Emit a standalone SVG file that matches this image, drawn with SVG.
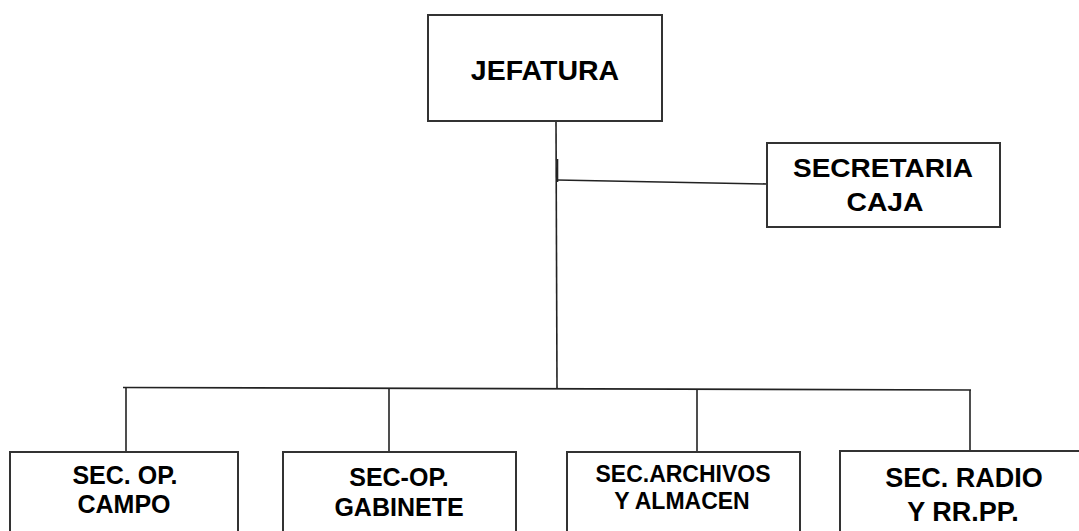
<svg xmlns="http://www.w3.org/2000/svg" width="1079" height="531" viewBox="0 0 1079 531">
<style>
.box{fill:#fff;stroke:#333;stroke-width:2}
.ln{stroke:#222;stroke-width:1.6;fill:none}
text{font-family:"Liberation Sans",Arial,sans-serif;font-weight:bold;fill:#000;text-anchor:middle}
</style>
<rect width="1079" height="531" fill="#fff"/>
<g id="connectors">
<path class="ln" d="M556 121 L557 388"/>
<path class="ln" d="M557.5 159 L557.5 182"/>
<path class="ln" d="M557 180 L767 184"/>
<path class="ln" d="M123 387.5 L971 390"/>
<path class="ln" d="M126 388 L126 452"/>
<path class="ln" d="M389 388 L389 452"/>
<path class="ln" d="M697 389 L697 452"/>
<path class="ln" d="M970 390 L970 452"/>
</g>
<g id="jefatura">
<rect class="box" x="428" y="15" width="234" height="106"/>
<text x="545" y="80" font-size="28.5">JEFATURA</text>
</g>
<g id="secretaria">
<rect class="box" x="767" y="143" width="233" height="84"/>
<text x="883" y="177" font-size="26" textLength="180" lengthAdjust="spacingAndGlyphs">SECRETARIA</text>
<text x="885" y="211" font-size="26" textLength="77" lengthAdjust="spacingAndGlyphs">CAJA</text>
</g>
<g id="campo">
<rect class="box" x="10" y="452" width="228" height="100"/>
<text x="125" y="484" font-size="25">SEC. OP.</text>
<text x="124" y="513" font-size="25">CAMPO</text>
</g>
<g id="gabinete">
<rect class="box" x="283" y="452" width="233" height="100"/>
<text x="399" y="486" font-size="25">SEC-OP.</text>
<text x="399" y="516" font-size="25">GABINETE</text>
</g>
<g id="archivos">
<rect class="box" x="567" y="452" width="233" height="100"/>
<text x="683" y="482" font-size="23">SEC.ARCHIVOS</text>
<text x="682" y="509" font-size="23">Y ALMACEN</text>
</g>
<g id="radio">
<rect class="box" x="840" y="451" width="250" height="100"/>
<text x="964" y="487" font-size="27">SEC. RADIO</text>
<text x="963" y="521" font-size="27">Y RR.PP.</text>
</g>
</svg>
